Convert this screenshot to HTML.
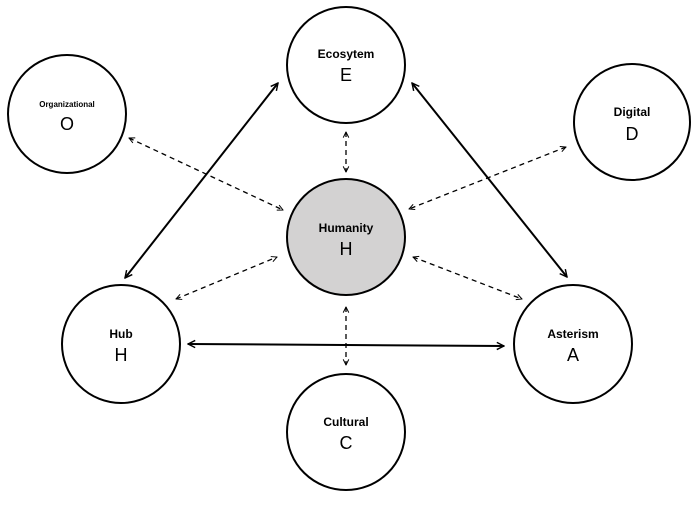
<!DOCTYPE html>
<html><head><meta charset="utf-8"><style>html,body{margin:0;padding:0;background:#fff}</style></head>
<body>
<svg width="700" height="501" viewBox="0 0 700 501" xmlns="http://www.w3.org/2000/svg" font-family="Liberation Sans, Arial, sans-serif">
<defs>
<marker id="a" viewBox="0 0 10 10" refX="9" refY="5" markerWidth="9" markerHeight="9" orient="auto-start-reverse" markerUnits="userSpaceOnUse"><path d="M1,1 L9,5 L1,9" fill="none" stroke="#000" stroke-width="1.6"/></marker>
<marker id="d" viewBox="0 0 10 10" refX="9" refY="5" markerWidth="7" markerHeight="7" orient="auto-start-reverse" markerUnits="userSpaceOnUse"><path d="M1,1 L9,5 L1,9" fill="none" stroke="#000" stroke-width="1.4"/></marker>
</defs>
<g stroke="#000" stroke-width="2" fill="none" marker-start="url(#a)" marker-end="url(#a)">
<line x1="125" y1="278" x2="278" y2="83"/>
<line x1="412" y1="83" x2="567" y2="277"/>
<line x1="188" y1="344" x2="504" y2="346"/>
</g>
<g stroke="#000" stroke-width="1.3" stroke-dasharray="5,4" fill="none" marker-start="url(#d)" marker-end="url(#d)">
<line x1="346" y1="132" x2="346" y2="172"/>
<line x1="129" y1="138" x2="283" y2="210"/>
<line x1="566" y1="147" x2="409" y2="209"/>
<line x1="176" y1="299" x2="277" y2="257"/>
<line x1="413" y1="257" x2="522" y2="299"/>
<line x1="346" y1="307" x2="346" y2="365"/>
</g>
<g stroke="#000" stroke-width="2" fill="#fff">
<ellipse cx="346" cy="65" rx="59" ry="58"/>
<ellipse cx="67" cy="114" rx="59" ry="59"/>
<ellipse cx="632" cy="122" rx="58" ry="58"/>
<ellipse cx="346" cy="237" rx="59" ry="58" fill="#d3d2d2"/>
<ellipse cx="121" cy="344" rx="59" ry="59"/>
<ellipse cx="573" cy="344" rx="59" ry="59"/>
<ellipse cx="346" cy="432" rx="59" ry="58"/>
</g>
<g text-anchor="middle" fill="#000">
<g font-weight="bold" font-size="12">
<text x="346" y="58">Ecosytem</text>
<text x="632" y="116">Digital</text>
<text x="346" y="232">Humanity</text>
<text x="121" y="338">Hub</text>
<text x="573" y="338">Asterism</text>
<text x="346" y="426">Cultural</text>
<text x="67" y="107" font-size="8">Organizational</text>
</g>
<g font-size="18">
<text x="346" y="81">E</text>
<text x="67" y="130">O</text>
<text x="632" y="140">D</text>
<text x="346" y="255">H</text>
<text x="121" y="361">H</text>
<text x="573" y="361">A</text>
<text x="346" y="449">C</text>
</g>
</g>
</svg>
</body></html>
